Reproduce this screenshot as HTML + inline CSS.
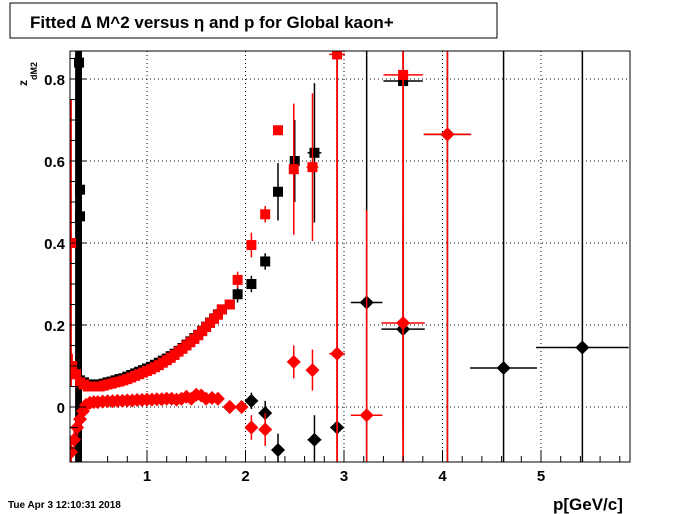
<!DOCTYPE html>
<html><head><meta charset="utf-8"><style>
html,body{margin:0;padding:0;background:#fff;width:700px;height:514px;overflow:hidden;font-family:"Liberation Sans",Arial,sans-serif}
svg{display:block}
svg text{font-family:"Liberation Sans",Arial,sans-serif}
</style></head><body>
<svg id="c" width="700" height="514" xmlns="http://www.w3.org/2000/svg">
<rect x="0" y="0" width="700" height="514" fill="#fff"/>
<rect x="10" y="3" width="487" height="35" fill="#fff" stroke="#000"/>
<text x="30" y="28" font-size="17" font-weight="bold">Fitted ∆ M^2 versus η and p for Global kaon+</text>
<text x="553" y="510" font-size="17" font-weight="bold">p[GeV/c]</text>
<text x="8" y="508" font-size="10" font-weight="bold">Tue Apr  3 12:10:31 2018</text>
<text transform="translate(27,86) rotate(-90)" font-size="12" font-weight="bold">z<tspan font-size="9" dy="10">dM2</tspan></text>
<defs><clipPath id="cp"><rect x="70" y="51" width="560" height="411"/></clipPath></defs>
<g id="grid"></g><g id="marks" clip-path="url(#cp)"></g><g id="axes"></g>
<rect x="70" y="51" width="560" height="411" fill="none" stroke="#000"/>
</svg>
<script>
// x tick labels / y tick labels
const xTicks=[1,2,3,4,5];
const yTicks=[0,0.2,0.4,0.6,0.8];
// red squares (mean) dense + sparse
const rsP=[0.24,0.28,0.32,0.36,0.40,0.44,0.48,0.52,0.56,0.60,0.64,0.68,0.72,0.76,0.80,0.84,0.88,0.92,0.96,1.00,1.04,1.08,1.12,1.16,1.20,1.24,1.28,1.32,1.36,1.40,1.44,1.48,1.52,1.56,1.60,1.64,1.68,1.72,1.76,1.84,1.92,2.06,2.20,2.33,2.49,2.68,2.93,3.60,0.23];
const rsV=[0.10,0.08,0.06,0.055,0.05,0.05,0.05,0.05,0.052,0.055,0.057,0.06,0.062,0.065,0.068,0.072,0.076,0.08,0.084,0.088,0.092,0.097,0.102,0.108,0.114,0.12,0.127,0.135,0.142,0.15,0.158,0.166,0.175,0.185,0.195,0.205,0.215,0.225,0.238,0.25,0.31,0.395,0.47,0.675,0.58,0.585,0.86,0.81,0.40];
const rsXe=[0,0,0,0,0,0,0,0,0,0,0,0,0,0,0,0,0,0,0,0,0,0,0,0,0,0,0,0,0,0,0,0,0,0,0,0,0,0,0,0,0.02,0.03,0.03,0.04,0.04,0.06,0.08,0.2,0];
const rsYe=[0.03,0.02,0,0,0,0,0,0,0,0,0,0,0,0,0,0,0,0,0,0,0,0,0,0,0,0,0,0,0,0,0,0,0,0,0,0,0,0,0,0.01,0.02,0.03,0.02,0,0.16,0.18,1.0,1.0,0.35];
// black squares
const bsP=[0.28,0.32,0.36,0.40,0.44,0.48,0.52,0.56,0.60,0.64,0.68,0.72,0.76,0.80,0.84,0.88,0.92,0.96,1.00,1.04,1.08,1.12,1.16,1.20,1.24,1.28,1.32,1.36,1.40,1.44,1.48,1.52,1.56,1.60,1.64,1.68,1.72,1.76,1.84,1.92,2.06,2.20,2.33,2.50,2.70,3.60,0.31,0.32,0.32];
const bsV=[0.08,0.065,0.06,0.055,0.055,0.055,0.055,0.057,0.06,0.062,0.065,0.068,0.07,0.074,0.078,0.082,0.086,0.09,0.094,0.098,0.103,0.108,0.113,0.118,0.124,0.13,0.137,0.144,0.152,0.16,0.168,0.176,0.186,0.196,0.206,0.216,0.226,0.238,0.25,0.275,0.30,0.355,0.525,0.60,0.62,0.795,0.84,0.53,0.465];
const bsXe=[0,0,0,0,0,0,0,0,0,0,0,0,0,0,0,0,0,0,0,0,0,0,0,0,0,0,0,0,0,0,0,0,0,0,0,0,0,0,0,0.02,0.03,0.03,0.04,0.05,0.07,0.2,0,0,0];
const bsYe=[0,0,0,0,0,0,0,0,0,0,0,0,0,0,0,0,0,0,0,0,0,0,0,0,0,0,0,0,0,0,0,0,0,0,0,0,0,0,0.01,0.02,0.02,0.02,0.07,0.1,0.17,0.85,2,2,2];
// red diamonds (sigma)
const rdP=[0.23,0.26,0.29,0.32,0.35,0.38,0.42,0.46,0.50,0.55,0.60,0.65,0.70,0.75,0.80,0.85,0.90,0.95,1.00,1.05,1.10,1.15,1.20,1.25,1.30,1.35,1.40,1.45,1.50,1.55,1.60,1.66,1.72,1.84,1.96,2.06,2.20,2.49,2.68,2.93,3.23,3.60,4.05];
const rdV=[-0.11,-0.08,-0.05,-0.03,-0.01,0.005,0.01,0.012,0.012,0.013,0.014,0.014,0.015,0.015,0.016,0.016,0.017,0.017,0.018,0.018,0.019,0.019,0.02,0.02,0.018,0.02,0.025,0.02,0.03,0.028,0.02,0.022,0.02,0.0,0.0,-0.05,-0.055,0.11,0.09,0.13,-0.02,0.205,0.665];
const rdXe=[0,0,0,0,0,0,0,0,0,0,0,0,0,0,0,0,0,0,0,0,0,0,0,0,0,0,0,0,0,0,0,0,0,0,0,0.02,0.03,0.04,0.05,0.08,0.16,0.22,0.24];
const rdYe=[0.03,0.03,0.02,0.01,0,0,0,0,0,0,0,0,0,0,0,0,0,0,0,0,0,0,0,0,0,0,0,0,0,0,0,0,0,0,0.01,0.03,0.04,0.04,0.05,1.0,0.5,1.0,1.0];
// black diamonds
const bdP=[1.84,2.06,2.20,2.33,2.70,2.93,3.23,3.60,4.05,4.62,5.42];
const bdV=[0.0,0.015,-0.015,-0.105,-0.08,-0.05,0.255,0.19,0.665,0.095,0.145];
const bdXe=[0.02,0.02,0.04,0.04,0.07,0.07,0.16,0.22,0.24,0.34,0.47];
const bdYe=[0.01,0.02,0.03,0.04,0.06,1.0,0.7,0.27,1.0,1.0,1.0];

const X=p=>48.5+98.5*p, Y=v=>407-410*v;
const NS='http://www.w3.org/2000/svg';
function mk(tag,at,par){const e=document.createElementNS(NS,tag);for(const k in at)e.setAttribute(k,at[k]);par.appendChild(e);return e;}
const G=document.getElementById('grid'),M=document.getElementById('marks'),A=document.getElementById('axes');
xTicks.forEach(t=>{
 const l=mk('line',{x1:X(t),x2:X(t),y1:51,y2:462,stroke:'#000','stroke-dasharray':'1,3'},G);
 
 
 const tx=mk('text',{x:X(t),y:481,'font-size':15,'font-weight':'bold','text-anchor':'middle'},A);tx.textContent=t;
 
 
});
yTicks.forEach(t=>{
 const l=mk('line',{x1:70,x2:630,y1:Y(t),y2:Y(t),stroke:'#000','stroke-dasharray':'1,3'},G);
 
 
 const tx=mk('text',{x:65,y:Y(t)+6,'font-size':15,'font-weight':'bold','text-anchor':'end'},A);tx.textContent=t===0?'0':t.toFixed(1);
 
 
});
for(let i=3;i<=29;i++){const p=i*0.2;if(X(p)<=70||X(p)>=630)continue;const big=i%5===0;
 const l=mk('line',{x1:X(p),x2:X(p),y1:462,y2:big?450:456,stroke:'#000'},A);
 
 }
for(let i=-2;i<=17;i++){const v=i*0.05;if(Y(v)>=462||Y(v)<=51)continue;const big=i%4===0;
 const l=mk('line',{x1:70,x2:big?86:78,y1:Y(v),y2:Y(v),stroke:'#000'},A);
 
 }
function series(P,V,XE,YE,col,shape,name){
 const g=mk('g',{},M);
 
 
 P.forEach((p,i)=>{const x=X(p),y=Y(V[i]);
  if(XE[i])mk('line',{x1:X(p-XE[i]),x2:X(p+XE[i]),y1:y,y2:y,stroke:col,'stroke-width':1.5},g);
  if(YE[i])mk('line',{x1:x,x2:x,y1:Y(V[i]-YE[i]),y2:Y(V[i]+YE[i]),stroke:col,'stroke-width':1.5},g);
  let m;
  if(shape==='sq')m=mk('rect',{x:x-5,y:y-5,width:10,height:10,fill:col},g);
  else m=mk('polygon',{points:`${x},${y-7} ${x+7},${y} ${x},${y+7} ${x-7},${y}`,fill:col},g);
  
  
 });
}
// thick black band of low-p error bars
const band=mk('rect',{x:X(0.27),y:51,width:X(0.34)-X(0.27),height:411,fill:'#000'},M);


series(bsP,bsV,bsXe,bsYe,'#000','sq','black-mean-series');
series(bdP,bdV,bdXe,bdYe,'#000','di','black-sigma-series');
series(rsP,rsV,rsXe,rsYe,'#f00','sq','red-mean-series');
series(rdP,rdV,rdXe,rdYe,'#f00','di','red-sigma-series');
</script>
</body></html>
